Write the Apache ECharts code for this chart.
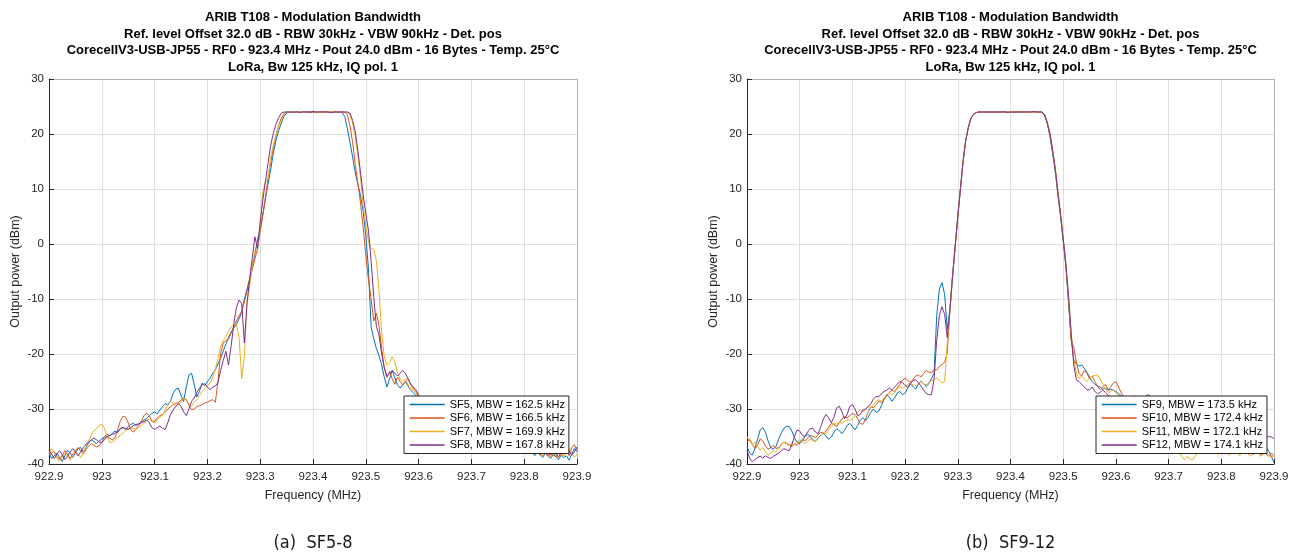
<!DOCTYPE html>
<html>
<head>
<meta charset="utf-8">
<title>ARIB T108 - Modulation Bandwidth</title>
<script src="https://cdn.jsdelivr.net/npm/echarts@6/dist/echarts.min.js"></script>
<style>
  html, body { margin: 0; padding: 0; background: #fff; }
  #chart { width: 1299px; height: 559px; }
</style>
</head>
<body>
<div id="chart"></div>
<script>
// Sweep grid of the spectrum analyser: 922.9 .. 923.9 MHz, 5 kHz per bin
const FREQ_START = 922.9;
const FREQ_STEP = 0.005;
const FREQ_COUNT = 201;
const FREQ = [];
for (let k = 0; k < FREQ_COUNT; k++) FREQ.push(+(FREQ_START + k * FREQ_STEP).toFixed(3));

const TITLE_LINES = [
  'ARIB T108 - Modulation Bandwidth',
  'Ref. level Offset 32.0 dB - RBW 30kHz - VBW 90kHz - Det. pos',
  'CorecellV3-USB-JP55 - RF0 - 923.4 MHz - Pout 24.0 dBm - 16 Bytes - Temp. 25°C',
  'LoRa, Bw 125 kHz, IQ pol. 1'
];
const CAPTIONS = ['(a)  SF5-8', '(b)  SF9-12'];
const X_NAME = 'Frequency (MHz)';
const Y_NAME = 'Output power (dBm)';

const NAMES_LEFT = ['SF5, MBW = 162.5 kHz', 'SF6, MBW = 166.5 kHz', 'SF7, MBW = 169.9 kHz', 'SF8, MBW = 167.8 kHz'];
const NAMES_RIGHT = ['SF9, MBW = 173.5 kHz', 'SF10, MBW = 172.4 kHz', 'SF11, MBW = 172.1 kHz', 'SF12, MBW = 174.1 kHz'];

// Output power traces (dBm), one value per frequency bin
const SF5 = [
  -38.0, -39.0, -38.5, -38.0, -38.8, -39.5, -38.5, -37.5, -38.0, -38.8,
  -38.0, -37.2, -37.0, -37.8, -37.0, -36.2, -35.6, -35.9, -36.3, -35.8,
  -35.5, -35.0, -34.6, -34.9, -34.4, -34.0, -34.3, -33.6, -33.3, -33.8,
  -33.2, -32.8, -32.6, -33.0, -32.7, -32.4, -32.0, -31.7, -31.2, -30.8,
  -30.5, -30.9, -30.2, -29.6, -29.0, -29.3, -28.6, -27.2, -26.4, -26.2,
  -27.5, -28.6, -26.0, -23.8, -23.5, -25.5, -27.8, -26.8, -25.3, -25.8,
  -25.0, -24.4, -23.5, -22.9, -21.8, -20.8, -19.5, -18.2, -17.0, -16.0,
  -15.3, -14.6, -13.6, -12.4, -10.0, -8.2, -6.3, -4.0, -1.8, 0.8,
  2.8, 5.4, 8.3, 11.0, 13.6, 16.6, 18.9, 20.6, 22.0, 23.2,
  23.8, 24.0, 24.0, 23.9, 24.0, 24.0, 24.1, 24.0, 24.0, 23.9,
  24.0, 24.0, 24.0, 24.1, 24.0, 24.0, 23.9, 24.0, 24.0, 24.0,
  24.0, 23.9, 23.2, 21.0, 18.5, 15.8, 13.0, 10.8, 8.8, 6.0,
  1.5, -4.5, -15.0, -17.2, -19.0, -20.3, -22.0, -24.2, -26.0, -24.5,
  -23.0, -24.3, -25.6, -26.2, -25.6, -25.0, -25.8, -26.6, -27.0, -27.6,
  -28.0, -28.8, -29.5, -29.0, -29.8, -30.6, -30.2, -31.0, -31.5, -31.0,
  -31.8, -32.4, -32.0, -32.8, -33.2, -32.6, -33.4, -34.0, -33.5, -34.2,
  -34.6, -34.0, -34.8, -35.3, -34.8, -35.5, -35.9, -35.2, -35.8, -36.4,
  -36.0, -36.6, -37.0, -36.4, -37.0, -37.5, -36.8, -37.2, -37.8, -37.2,
  -37.6, -38.2, -37.6, -38.0, -38.5, -37.8, -38.2, -38.8, -38.0, -38.4,
  -39.0, -38.3, -38.6, -39.2, -38.4, -38.8, -38.5, -39.3, -38.2, -37.2,
  -37.8
];
const SF6 = [
  -38.5, -38.0, -37.8, -38.6, -39.2, -38.4, -37.6, -38.2, -39.0, -38.2,
  -37.5, -37.0, -37.6, -38.2, -37.4, -36.8, -36.3, -36.6, -36.9, -36.7,
  -36.0, -35.2, -35.0, -35.3, -35.6, -35.2, -33.8, -32.2, -31.3, -31.5,
  -32.5, -33.8, -34.2, -33.6, -33.0, -32.2, -31.2, -30.7, -31.2, -32.2,
  -32.3, -31.6, -31.2, -31.0, -30.6, -30.0, -29.6, -29.2, -29.0, -28.8,
  -28.4, -28.0, -28.3, -29.4, -30.1, -30.0, -29.6, -29.4, -29.2, -28.9,
  -28.8, -28.5, -28.3, -28.8, -25.0, -20.0, -18.0, -17.6, -17.3, -16.2,
  -15.0, -14.0, -13.0, -12.2, -10.5, -8.6, -6.6, -4.6, -2.7, -0.8,
  2.3, 5.2, 8.5, 12.0, 15.0, 17.5, 19.8, 21.6, 22.9, 23.7,
  24.0, 24.0, 23.9, 24.0, 24.0, 24.0, 24.0, 24.1, 24.0, 24.0,
  24.0, 23.9, 24.0, 24.0, 24.0, 24.1, 24.0, 24.0, 24.0, 24.0,
  24.0, 24.0, 24.0, 23.5, 21.5, 18.5, 14.5, 11.0, 7.5, 3.0,
  -2.0, -6.5, -10.0, -14.0, -12.6, -14.8, -19.0, -22.5, -24.3, -23.2,
  -24.5, -25.5, -24.2, -25.0, -25.6, -25.0, -24.5, -25.5, -26.5, -27.0,
  -27.8, -28.4, -28.0, -28.9, -29.6, -29.2, -30.0, -30.7, -30.2, -31.0,
  -31.6, -31.1, -31.9, -32.5, -32.0, -32.7, -33.3, -32.8, -33.5, -34.0,
  -33.4, -34.2, -34.7, -34.1, -34.9, -35.4, -34.8, -35.5, -36.0, -35.4,
  -36.1, -36.6, -36.0, -36.6, -37.1, -36.4, -36.9, -37.4, -36.8, -37.3,
  -37.8, -37.2, -37.6, -38.1, -37.4, -37.8, -38.4, -37.7, -38.0, -38.6,
  -37.9, -38.3, -38.8, -38.0, -38.5, -38.2, -37.5, -38.5, -37.0, -36.5,
  -37.5
];
const SF7 = [
  -38.0, -37.2, -38.0, -39.0, -39.5, -38.8, -38.0, -38.6, -39.3, -38.5,
  -37.8, -38.2, -38.8, -38.0, -36.8, -35.8, -34.8, -34.0, -33.6, -33.0,
  -32.8, -33.5, -35.0, -36.1, -36.0, -35.6, -35.2, -34.8, -34.4, -34.0,
  -33.6, -33.4, -33.6, -33.7, -33.3, -33.0, -32.6, -32.0, -31.8, -32.3,
  -32.5, -32.0, -31.5, -31.2, -30.2, -29.0, -28.6, -29.0, -29.5, -29.2,
  -28.6, -28.1, -28.2, -29.2, -29.5, -28.8, -28.3, -27.6, -26.8, -26.2,
  -25.8, -25.3, -24.2, -22.8, -20.8, -18.8, -17.6, -16.8, -15.8, -15.1,
  -14.6, -14.6, -17.0, -24.5, -20.5, -10.5, -7.8, -3.8, -1.3, -1.5,
  3.5, 9.5, 11.3, 12.0, 15.8, 18.0, 19.8, 21.5, 22.5, 23.5,
  24.0, 24.0, 24.0, 24.0, 23.9, 24.0, 24.0, 24.0, 24.0, 24.1,
  24.0, 24.0, 24.0, 24.0, 23.9, 24.0, 24.0, 24.0, 24.0, 24.0,
  24.0, 24.0, 24.0, 24.0, 23.5, 22.0, 19.5, 16.0, 12.0, 7.0,
  3.5, 0.5, -0.8, -1.0, -3.0, -8.5, -16.0, -20.5, -22.0, -21.5,
  -20.5, -21.5, -23.5, -24.5, -25.0, -24.5, -25.5, -26.5, -26.0, -27.0,
  -27.5, -28.2, -28.8, -28.3, -29.0, -29.8, -29.3, -30.1, -30.8, -30.3,
  -31.0, -31.7, -31.2, -32.0, -32.6, -32.1, -32.8, -33.4, -32.9, -33.6,
  -34.1, -33.5, -34.3, -34.8, -34.2, -35.0, -35.5, -34.9, -35.6, -36.1,
  -35.5, -36.2, -36.7, -36.1, -36.7, -37.2, -36.5, -37.0, -37.5, -36.9,
  -37.4, -37.9, -37.3, -37.7, -38.2, -37.5, -37.9, -38.5, -37.8, -38.1,
  -38.7, -38.0, -38.4, -38.9, -38.1, -38.6, -38.0, -37.2, -38.0, -38.8,
  -38.2
];
const SF8 = [
  -37.5, -38.2, -39.0, -38.2, -37.6, -38.3, -39.2, -38.6, -37.8, -37.2,
  -37.8, -38.5, -37.8, -37.0, -36.4, -36.0, -35.6, -35.3, -35.6, -36.0,
  -36.1, -35.6, -35.0, -34.8, -34.6, -34.4, -34.0, -33.6, -33.4, -33.5,
  -33.7, -33.4, -33.0, -32.8, -32.7, -32.5, -32.3, -32.0, -32.5, -33.4,
  -33.7, -33.4, -33.1, -33.5, -33.7, -32.5, -31.0, -30.2, -29.5, -29.0,
  -29.5, -30.5, -31.2, -30.0, -28.6, -28.0, -27.0, -26.2, -25.6, -25.4,
  -26.0, -26.5, -26.0, -25.8, -25.2, -23.0, -21.2, -19.5, -22.0, -18.5,
  -14.5, -11.5, -10.2, -10.9, -18.0, -10.8, -6.5, -2.5, 1.3, -0.8,
  4.0, 8.0, 11.5, 14.8, 18.0, 20.2, 21.8, 23.0, 23.8, 24.0,
  24.0, 24.0, 24.0, 24.0, 24.0, 23.9, 24.0, 24.0, 24.0, 24.0,
  24.1, 24.0, 24.0, 24.0, 24.0, 24.0, 24.0, 23.9, 24.0, 24.0,
  24.0, 24.0, 24.0, 24.0, 23.8, 22.5, 20.5, 17.0, 13.0, 9.0,
  5.5, 2.5, -3.0, -9.5, -15.0, -16.5, -20.0, -22.5, -24.0, -23.5,
  -23.0, -23.5, -24.0, -23.5, -23.0, -23.5, -24.5, -25.5, -26.0, -26.5,
  -27.5, -28.0, -28.6, -28.2, -29.0, -29.5, -29.1, -29.9, -30.5, -30.0,
  -30.8, -31.4, -30.9, -31.6, -32.2, -31.7, -32.5, -33.0, -32.5, -33.2,
  -33.8, -33.2, -34.0, -34.5, -33.9, -34.7, -35.2, -34.6, -35.3, -35.8,
  -35.2, -35.9, -36.4, -35.8, -36.4, -36.9, -36.2, -36.8, -37.2, -36.6,
  -37.1, -37.6, -37.0, -37.5, -38.0, -37.3, -37.7, -38.2, -37.5, -37.9,
  -38.4, -37.8, -38.2, -38.7, -38.0, -37.4, -36.8, -37.6, -38.4, -37.8,
  -36.9
];
const SF9 = [
  -36.8, -38.0, -38.4, -37.2, -35.5, -33.8, -33.4, -34.2, -35.8, -37.0,
  -37.3, -36.8, -35.5, -34.4, -33.5, -33.1, -33.2, -34.0, -35.2, -36.0,
  -36.3, -35.8, -35.0, -34.6, -35.0, -35.6, -35.9, -35.3, -34.8, -34.4,
  -34.9, -35.5, -35.1, -34.2, -33.6, -33.9, -34.5, -33.9, -33.0, -32.6,
  -33.2, -33.8, -33.0, -32.0, -31.6, -32.1, -31.5, -30.6, -30.0, -30.6,
  -30.4, -29.4, -28.2, -27.4, -27.8, -28.6, -28.0, -27.1, -26.8, -27.4,
  -27.1, -26.2, -25.5, -25.9, -26.4, -25.5, -24.9, -25.4, -25.9, -25.4,
  -24.5, -23.5, -13.0, -8.2, -7.0, -9.2, -15.5, -12.0, -5.8, -0.4,
  5.0, 10.0, 15.0, 18.8, 21.2, 22.9, 23.6, 23.9, 24.0, 24.0,
  24.0, 24.0, 24.0, 24.0, 24.0, 24.0, 24.0, 24.0, 24.1, 24.0,
  24.0, 24.0, 24.0, 24.0, 24.0, 24.0, 24.1, 24.0, 24.0, 24.0,
  24.0, 24.0, 23.9, 23.3, 21.8, 19.5, 16.4, 13.2, 8.8, 5.0,
  0.5, -4.0, -10.5, -17.0, -21.0, -21.8, -22.2, -22.0, -22.6, -23.3,
  -24.2, -25.0, -25.5, -25.8, -26.0, -26.4, -26.2, -26.6, -26.4, -26.6,
  -26.8, -27.2, -27.6, -28.0, -28.4, -28.9, -28.6, -28.3, -29.0, -29.8,
  -29.6, -30.4, -31.0, -30.5, -31.2, -31.8, -31.3, -32.0, -32.6, -32.0,
  -32.8, -33.4, -32.9, -33.5, -34.0, -33.4, -34.1, -34.6, -34.0, -34.7,
  -35.2, -34.6, -35.2, -35.8, -35.2, -35.9, -36.4, -35.8, -36.3, -36.9,
  -36.2, -36.7, -37.2, -36.6, -37.0, -37.5, -36.9, -37.3, -37.8, -37.1,
  -37.5, -38.0, -37.3, -36.8, -37.2, -36.8, -36.4, -37.0, -37.6, -38.6,
  -39.8
];
const SF10 = [
  -36.0, -35.5, -36.4, -37.2, -36.6, -35.4, -35.8, -36.8, -37.3, -37.0,
  -36.6, -37.2, -37.0, -36.4, -36.0, -36.2, -36.5, -36.8, -36.4, -36.6,
  -36.0, -35.5, -35.8, -35.3, -34.8, -35.0, -35.2, -34.7, -34.2, -34.4,
  -34.0, -33.3, -32.6, -32.8, -33.2, -32.5, -31.8, -31.4, -31.6, -31.2,
  -30.8, -31.0, -31.8, -32.6, -32.8, -31.8, -30.5, -29.6, -29.8, -29.2,
  -28.6, -28.8, -28.3, -27.6, -27.0, -26.6, -26.8, -26.2, -25.5, -24.8,
  -24.4, -24.8, -25.2, -24.6, -24.0, -23.8, -24.2, -23.6, -23.0, -23.3,
  -23.4, -22.8, -22.9, -22.3, -21.9, -21.5, -19.8, -12.0, -6.0, -0.5,
  5.0, 10.0, 15.0, 18.8, 21.2, 22.9, 23.6, 23.9, 24.0, 24.0,
  24.0, 24.0, 24.0, 24.0, 23.9, 24.0, 24.0, 24.0, 24.0, 24.0,
  24.0, 24.0, 24.0, 24.1, 24.0, 24.0, 24.0, 24.0, 24.0, 24.0,
  24.0, 24.0, 24.0, 23.4, 22.0, 19.8, 16.8, 13.5, 9.2, 5.2,
  0.8, -3.8, -10.0, -17.5, -18.8, -21.5, -23.5, -24.0, -23.0, -23.5,
  -24.5, -24.0, -25.0, -25.8, -26.5, -26.0, -25.5, -26.5, -26.0, -25.3,
  -25.0, -26.0, -27.0, -27.8, -28.2, -27.9, -28.5, -29.2, -28.8, -29.5,
  -30.2, -29.8, -30.5, -31.1, -30.6, -31.3, -31.9, -31.4, -32.1, -32.7,
  -32.1, -32.9, -33.5, -33.0, -33.6, -34.1, -33.5, -34.2, -34.8, -34.2,
  -34.9, -35.4, -34.8, -35.5, -36.0, -35.4, -36.1, -36.6, -36.0, -36.6,
  -37.1, -36.5, -37.0, -37.5, -36.9, -37.4, -37.9, -37.2, -37.6, -38.1,
  -37.5, -37.9, -38.3, -37.6, -38.0, -38.4, -37.8, -38.2, -38.6, -38.0,
  -38.6
];
const SF11 = [
  -35.0, -35.8, -36.5, -36.0, -36.8, -37.5, -37.0, -37.8, -38.4, -38.0,
  -37.5, -37.8, -37.2, -36.5, -36.0, -36.4, -36.6, -36.2, -36.5, -36.0,
  -35.6, -35.9, -36.3, -35.8, -35.5, -35.7, -35.9, -35.4, -34.8, -34.2,
  -34.5, -33.8, -33.2, -32.6, -32.8, -32.4, -32.6, -32.3, -31.9, -32.1,
  -31.8, -31.3, -30.6, -30.1, -30.5, -30.0, -29.5, -29.8, -29.2, -28.6,
  -28.3, -28.6, -28.0, -27.4, -27.1, -27.5, -27.0, -26.4, -25.9, -26.2,
  -26.0, -25.5, -25.3, -25.6, -25.8, -25.3, -25.0, -25.4, -25.6, -25.2,
  -24.9, -24.6, -24.4, -24.8, -25.3, -25.0, -18.0, -12.0, -6.0, -0.5,
  5.0, 10.0, 15.0, 18.8, 21.2, 22.9, 23.6, 23.9, 24.0, 24.0,
  24.0, 24.0, 24.0, 24.0, 24.0, 24.0, 23.9, 24.0, 24.0, 24.0,
  24.0, 24.0, 24.1, 24.0, 24.0, 24.0, 24.0, 24.0, 23.9, 24.0,
  24.0, 24.0, 24.0, 23.5, 22.2, 20.2, 17.2, 13.8, 9.6, 5.6,
  1.2, -3.5, -9.5, -16.0, -21.0, -23.5, -24.5, -24.0, -24.5, -25.0,
  -24.5, -24.0, -23.9, -23.8, -24.5, -25.5, -26.5, -27.0, -26.8, -26.5,
  -27.0, -27.5, -28.2, -27.8, -28.5, -29.1, -28.6, -29.4, -30.0, -29.5,
  -30.3, -30.9, -31.5, -32.2, -32.8, -32.4, -33.2, -33.9, -34.6, -34.2,
  -35.0, -35.8, -36.5, -37.3, -38.0, -38.6, -39.2, -38.6, -39.0, -39.3,
  -38.6, -38.0, -37.4, -37.0, -37.6, -38.2, -37.7, -37.2, -37.8, -38.3,
  -37.8, -37.3, -37.8, -38.4, -37.9, -37.4, -37.9, -38.5, -38.0, -37.6,
  -38.1, -38.6, -38.0, -37.5, -38.0, -38.6, -38.2, -37.8, -38.4, -38.9,
  -38.4
];
const SF12 = [
  -37.5, -39.0, -39.6, -39.2, -38.8, -38.6, -38.9, -38.5, -38.8, -39.0,
  -38.6, -38.3, -38.0, -37.6, -37.2, -37.4, -37.6, -36.5, -35.0, -33.8,
  -34.0, -34.8, -35.0, -34.2, -33.6, -33.5, -34.2, -34.5, -33.2, -31.8,
  -31.0, -31.6, -32.5, -31.5, -29.8, -29.5, -30.5, -31.8, -31.0, -29.5,
  -29.2, -30.0, -31.2, -31.0, -30.2, -30.0, -29.6, -29.0, -28.2, -27.7,
  -27.8, -27.2, -26.8, -26.6, -26.2, -26.5, -26.0, -25.5, -25.0, -25.2,
  -25.7, -26.0, -25.4, -24.8, -24.7, -25.2, -25.8, -26.5, -27.2, -27.4,
  -27.4, -24.5, -17.5, -13.0, -11.4, -12.8, -17.0, -12.0, -6.0, -0.5,
  5.0, 10.0, 15.0, 18.8, 21.2, 22.9, 23.6, 23.9, 24.0, 24.0,
  24.0, 24.0, 24.0, 24.0, 24.0, 24.0, 24.0, 24.0, 24.0, 23.9,
  24.0, 24.0, 24.0, 24.0, 24.0, 24.0, 24.0, 24.0, 24.0, 24.1,
  24.0, 24.0, 24.0, 23.5, 22.0, 20.0, 17.0, 13.6, 9.4, 5.4,
  1.0, -3.6, -9.2, -16.0, -22.0, -24.7, -25.0, -25.5, -26.0, -26.5,
  -26.5, -26.0, -26.8, -27.2, -27.0, -26.5, -27.0, -27.5, -27.8, -28.0,
  -28.3, -28.0, -27.8, -28.2, -28.6, -28.0, -27.8, -27.6, -27.9, -28.4,
  -28.2, -27.8, -27.4, -27.6, -28.2, -28.8, -29.5, -30.2, -30.8, -31.3,
  -31.9, -32.4, -33.0, -33.5, -34.0, -34.4, -34.9, -35.3, -35.8, -36.2,
  -36.6, -37.0, -36.5, -36.9, -37.3, -36.8, -37.2, -37.6, -37.0, -37.4,
  -37.7, -37.1, -37.5, -37.8, -37.2, -37.6, -37.9, -37.3, -37.7, -38.0,
  -37.5, -37.8, -37.3, -36.8, -36.3, -35.8, -35.5, -35.2, -35.0, -35.1,
  -35.4
];

// MATLAB-style default line colours
const COLORS = ['#0072BD', '#D95319', '#EDB120', '#7E2F8E'];

const FONT = "'Liberation Sans', Arial, Helvetica, sans-serif";
const INK = '#262626';
const GRID_COLOR = '#dfdfdf';
const BOX_COLOR = '#b4b4b4';

const PLOTS = [
  { left: 49, width: 528, legendLeft: 404, names: NAMES_LEFT, traces: [SF5, SF6, SF7, SF8], caption: CAPTIONS[0] },
  { left: 747, width: 527, legendLeft: 1096, names: NAMES_RIGHT, traces: [SF9, SF10, SF11, SF12], caption: CAPTIONS[1] }
];
const PLOT_TOP = 79;
const PLOT_HEIGHT = 385;

const fmtFreq = v => String(+(+v).toFixed(1));

const grid = [], xAxis = [], yAxis = [], series = [], legend = [], title = [];

PLOTS.forEach((p, g) => {
  const cx = p.left + p.width / 2;
  grid.push({ left: p.left, top: PLOT_TOP, width: p.width, height: PLOT_HEIGHT, containLabel: false });

  xAxis.push({
    gridIndex: g, type: 'value', min: 922.9, max: 923.9, interval: 0.1,
    axisLine: { show: true, onZero: false, lineStyle: { color: INK, width: 1 } },
    axisTick: { show: true, inside: true, length: 5, lineStyle: { color: INK, width: 1 } },
    axisLabel: { margin: 7, fontSize: 11.5, color: INK, fontFamily: FONT, formatter: fmtFreq },
    splitLine: { show: true, lineStyle: { color: GRID_COLOR, width: 1 } },
    name: X_NAME, nameLocation: 'middle', nameGap: 25,
    nameTextStyle: { fontSize: 12.5, color: INK, fontFamily: FONT }
  });
  yAxis.push({
    gridIndex: g, type: 'value', min: -40, max: 30, interval: 10,
    axisLine: { show: true, onZero: false, lineStyle: { color: INK, width: 1 } },
    axisTick: { show: true, inside: true, length: 5, lineStyle: { color: INK, width: 1 } },
    axisLabel: { margin: 5, fontSize: 11.5, color: INK, fontFamily: FONT },
    splitLine: { show: true, lineStyle: { color: GRID_COLOR, width: 1 } },
    name: Y_NAME, nameLocation: 'middle', nameGap: 27, nameRotate: 90,
    nameTextStyle: { fontSize: 12.5, color: INK, fontFamily: FONT }
  });

  p.traces.forEach((vals, s) => {
    series.push({
      name: p.names[s], type: 'line', xAxisIndex: g, yAxisIndex: g,
      data: FREQ.map((f, k) => [f, vals[k]]),
      symbol: 'none', showSymbol: false, smooth: false, clip: true,
      lineStyle: { width: 1, color: COLORS[s] }, itemStyle: { color: COLORS[s] },
      emphasis: { disabled: true }, z: 3
    });
  });

  // legend samples are plain line segments, the marker is hidden
  legend.push({
    data: p.names, orient: 'vertical', left: p.legendLeft, top: 396,
    itemWidth: 35, itemHeight: 11, itemGap: 2.5,
    padding: [3, 4, 3, 5],
    itemStyle: { color: 'rgba(0,0,0,0)', borderWidth: 0 },
    lineStyle: { width: 1.3 },
    backgroundColor: '#ffffff', borderColor: INK, borderWidth: 1, borderRadius: 0,
    textStyle: { fontSize: 11, color: '#000', fontFamily: FONT },
    selectedMode: false, z: 10
  });

  title.push({
    text: TITLE_LINES.join('\n'), left: cx, top: 9.5, textAlign: 'center', padding: 0,
    textStyle: { fontSize: 13, fontWeight: 'bold', color: '#000', lineHeight: 16.5, fontFamily: FONT }
  });
  title.push({
    text: p.caption, left: cx, top: 534, textAlign: 'center', padding: 0,
    textStyle: { fontSize: 18, fontWeight: 'normal', color: '#1a1a1a', fontFamily: "'Liberation Sans Narrow', 'DejaVu Sans Condensed', sans-serif" }
  });
});

// box edges on the top and right of each plot
PLOTS.forEach((p, g) => {
  xAxis.push({
    gridIndex: g, type: 'value', position: 'top', min: 922.9, max: 923.9, interval: 0.1,
    axisLine: { show: true, onZero: false, lineStyle: { color: BOX_COLOR, width: 1 } },
    axisTick: { show: false }, axisLabel: { show: false }, splitLine: { show: false }
  });
  yAxis.push({
    gridIndex: g, type: 'value', position: 'right', min: -40, max: 30, interval: 10,
    axisLine: { show: true, onZero: false, lineStyle: { color: BOX_COLOR, width: 1 } },
    axisTick: { show: false }, axisLabel: { show: false }, splitLine: { show: false }
  });
});

const chart = echarts.init(document.getElementById('chart'), null, { renderer: 'canvas' });
chart.setOption({
  animation: false,
  backgroundColor: '#ffffff',
  title, grid, xAxis, yAxis, series, legend
});
</script>
</body>
</html>
